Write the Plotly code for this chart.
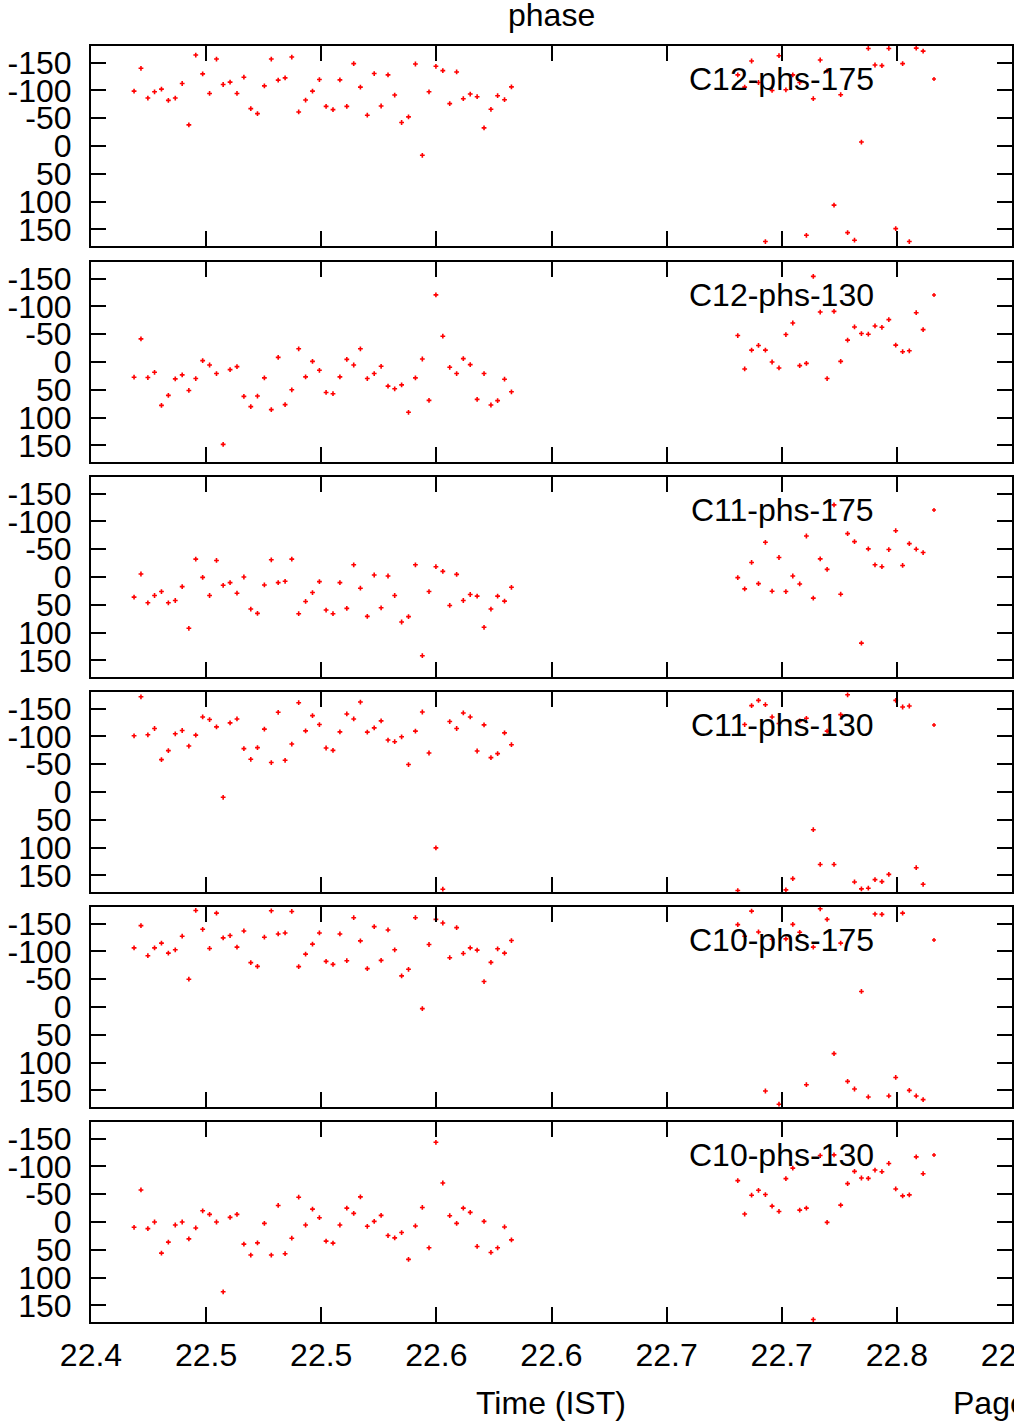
import plotly.graph_objects as go

# ---------------- data ----------------
time_ist = [
    22.4187, 22.4217, 22.4247, 22.4276, 22.4306, 22.4336, 22.4366, 22.4396,
    22.4425, 22.4455, 22.4485, 22.4515, 22.4545, 22.4574, 22.4604, 22.4634,
    22.4664, 22.4694, 22.4723, 22.4753, 22.4783, 22.4813, 22.4843, 22.4872,
    22.4902, 22.4932, 22.4962, 22.4992, 22.5021, 22.5051, 22.5081, 22.5111,
    22.5141, 22.5170, 22.5200, 22.5230, 22.5260, 22.5290, 22.5319, 22.5349,
    22.5379, 22.5409, 22.5439, 22.5468, 22.5498, 22.5528, 22.5558, 22.5588,
    22.5617, 22.5647, 22.5677, 22.5707, 22.5737, 22.5766, 22.5796, 22.5826,
    22.6809, 22.6839, 22.6869, 22.6899, 22.6929, 22.6958, 22.6988, 22.7018,
    22.7048, 22.7078, 22.7107, 22.7137, 22.7167, 22.7197, 22.7227, 22.7256,
    22.7286, 22.7316, 22.7346, 22.7376, 22.7405, 22.7435, 22.7465, 22.7495,
    22.7525, 22.7554, 22.7584, 22.7614,
]

c12_phs_175 = [
    -98.8, -139.9, -86.3, -97.6, -102.4, -82.1, -86.3, -112.5, -38.1, -163.7,
    -129.8, -94.6, -156.5, -110.7, -114.9, -94.6, -123.8, -67.3, -58.3, -108.3,
    -156.5, -118.5, -122.6, -160.1, -61.3, -82.7, -98.8, -119.6, -71.4, -65.5,
    -119.0, -71.4, -148.2, -106.0, -55.4, -130.4, -72.0, -128.0, -91.7, -42.3,
    -52.4, -147.6, 16.7, -97.6, -143.5, -135.7, -76.2, -133.3, -85.1, -93.5,
    -88.7, -32.7, -66.1, -90.5, -83.3, -106.5,
    -128.0, -106.0, -153.0, -114.3, 172.0, -100.0, -162.5, -101.2, -128.0, -114.3,
    160.7, -85.1, -154.8, -135.1, 106.5, -92.3, 156.0, 169.6, -7.1, -175.6,
    -145.8, -144.6, -175.6, 148.8, -148.2, 172.0, -176.2, -170.8,
]

c12_phs_130 = [
    27.4, -41.7, 28.0, 18.5, 78.0, 60.1, 30.4, 23.2, 51.2, 29.8,
    -2.4, 5.4, 20.8, 148.2, 13.7, 8.3, 61.9, 80.4, 61.3, 28.6,
    85.7, -8.3, 76.8, 50.0, -23.8, 26.8, -1.2, 14.9, 54.8, 57.1,
    26.8, -4.8, 5.4, -23.8, 29.8, 20.8, 7.7, 43.5, 48.2, 41.1,
    90.5, 28.6, -5.4, 69.0, -120.8, -46.4, 9.5, 20.8, -6.0, 4.8,
    67.3, 20.8, 77.4, 69.6, 31.0, 53.6,
    -47.6, 12.5, -21.4, -29.8, -21.4, 0.0, 10.7, -49.4, -70.2, 6.5,
    2.4, -154.2, -89.9, 29.8, -91.1, -1.2, -39.3, -63.1, -51.2, -50.0,
    -64.9, -62.5, -76.2, -30.4, -18.5, -20.2, -88.7, -58.3,
]

c11_phs_175 = [
    36.3, -5.4, 46.4, 33.3, 26.2, 46.4, 42.3, 17.3, 92.3, -32.1,
    0.6, 33.3, -29.8, 14.9, 10.1, 29.2, 0.0, 57.7, 65.5, 14.3,
    -31.0, 10.1, 7.7, -32.1, 66.1, 44.0, 28.0, 8.3, 59.5, 66.1,
    10.1, 56.5, -22.0, 20.2, 70.8, -3.6, 55.4, -1.8, 33.3, 81.0,
    71.4, -22.0, 141.7, 26.2, -18.5, -10.1, 51.2, -4.8, 42.3, 31.5,
    34.5, 90.5, 57.7, 34.5, 43.5, 18.5,
    1.2, 21.4, -26.2, 11.9, -62.5, 25.6, -35.1, 26.2, -1.8, 12.5,
    -73.8, 38.1, -32.7, -13.7, -129.8, 31.0, -78.0, -63.7, 119.0, -50.6,
    -22.0, -18.5, -49.4, -83.3, -20.8, -60.1, -50.0, -44.0,
]

c11_phs_130 = [
    -101.2, -171.4, -103.0, -114.3, -58.3, -74.4, -104.8, -110.7, -82.7, -102.4,
    -135.1, -130.4, -117.3, 9.5, -124.4, -131.5, -78.0, -58.9, -79.8, -113.1,
    -53.0, -143.5, -57.1, -86.3, -160.7, -110.1, -137.5, -121.4, -79.2, -75.0,
    -108.3, -140.5, -131.5, -161.9, -107.7, -115.5, -128.0, -93.5, -90.5, -99.4,
    -49.4, -109.5, -144.0, -70.2, 100.6, 175.0, -126.8, -114.3, -142.3, -135.1,
    -73.8, -120.8, -61.9, -69.0, -106.5, -85.1,
    177.4, -121.4, -155.4, -164.9, -157.1, -135.1, -123.2, 176.2, 156.0, -128.0,
    -132.7, 67.9, 130.4, -109.5, 130.4, -139.3, -175.0, 161.9, 174.4, 173.2,
    157.7, 161.3, 148.2, -164.9, -153.0, -154.8, 136.3, 166.1,
]

c10_phs_175 = [
    -106.5, -146.4, -92.3, -106.5, -114.9, -97.0, -103.0, -127.4, -50.0, -173.8,
    -139.9, -105.4, -169.0, -124.4, -128.6, -107.7, -136.9, -79.8, -73.2, -125.6,
    -173.2, -131.5, -133.3, -172.0, -72.6, -95.2, -113.1, -133.3, -82.1, -76.8,
    -131.5, -83.3, -160.7, -119.0, -69.0, -144.6, -83.9, -138.7, -103.0, -56.0,
    -67.9, -160.7, 3.0, -112.5, -157.7, -151.2, -88.7, -142.9, -96.4, -106.5,
    -102.4, -45.8, -80.4, -104.8, -97.0, -119.6,
    -148.2, -127.4, -172.6, -135.1, 151.2, -122.0, 175.0, -122.6, -148.8, -134.5,
    139.9, -107.7, -176.8, -157.7, 83.9, -114.9, 133.9, 147.6, -28.0, 161.9,
    -167.3, -166.7, 160.1, 126.8, -169.0, 150.0, 160.1, 166.7,
]

c10_phs_130 = [
    9.5, -57.7, 11.9, 0.0, 56.0, 36.3, 5.4, 0.0, 30.4, 10.7,
    -20.2, -13.7, 0.0, 125.6, -8.3, -13.7, 39.9, 59.5, 37.5, 2.4,
    59.5, -29.8, 57.1, 29.2, -44.6, 5.4, -23.2, -7.7, 34.5, 38.1,
    5.4, -25.0, -15.5, -45.2, 7.7, -1.2, -11.9, 24.4, 28.6, 19.0,
    67.3, 7.1, -26.2, 46.4, -143.5, -70.2, -11.3, 2.4, -25.0, -17.3,
    44.0, -1.2, 54.8, 46.4, 8.9, 32.1,
    -74.4, -14.3, -48.2, -57.1, -49.4, -28.6, -19.0, -78.0, -97.0, -21.4,
    -25.0, 175.6, -119.6, 0.6, -120.8, -30.4, -69.0, -91.1, -79.2, -78.6,
    -93.5, -90.5, -105.4, -59.5, -47.0, -48.8, -117.3, -86.9,
]

panel_labels = ["C12-phs-175", "C12-phs-130", "C11-phs-175",
                "C11-phs-130", "C10-phs-175", "C10-phs-130"]
panel_series = [c12_phs_175, c12_phs_130, c11_phs_175,
                c11_phs_130, c10_phs_175, c10_phs_130]

y_tickvals = [-150, -100, -50, 0, 50, 100, 150]
y_ticktext = ["-150", "-100", "-50", "0", "50", "100", "150"]
x_tickvals = [22.40, 22.45, 22.50, 22.55, 22.60, 22.65, 22.70, 22.75, 22.80]
x_ticktext = ["22.4", "22.5", "22.5", "22.6", "22.6", "22.7", "22.7", "22.8", "22.8"]

title_text = "phase"
xlabel_text = "Time (IST)"
page_text = "Page"

# ---------------- layout geometry ----------------
W, H = 1014, 1421
ML, MR = 91, 2
panel_tops = [46, 262, 477, 692, 907, 1122]
panel_h = 200
FONT = dict(family="Liberation Sans, Arial, sans-serif", size=32, color="black")


def px_x(px):
    return (px - ML) / (W - ML - MR)


def px_y(py):
    return 1 - py / H


fig = go.Figure()
layout = dict(
    width=W, height=H, autosize=False,
    margin=dict(l=ML, r=MR, t=0, b=0, pad=0, autoexpand=False),
    paper_bgcolor="white", plot_bgcolor="white",
    showlegend=False, font=FONT,
)
annotations = []
shapes = []

for i, (lab, vals) in enumerate(zip(panel_labels, panel_series)):
    n = i + 1
    xa = "x" if n == 1 else f"x{n}"
    ya = "y" if n == 1 else f"y{n}"
    fig.add_trace(go.Scatter(
        x=time_ist, y=vals, mode="markers", xaxis=xa, yaxis=ya,
        marker=dict(symbol="cross", size=4, color="#ff0000", line=dict(width=0)),
        hoverinfo="x+y",
    ))
    top = panel_tops[i]
    bot = top + panel_h
    layout["xaxis" if n == 1 else f"xaxis{n}"] = dict(
        domain=[0, 1], anchor=ya, range=[22.4, 22.8], automargin=False,
        tickmode="array", tickvals=x_tickvals, ticktext=x_ticktext,
        showticklabels=(n == 6), ticks="inside", ticklen=15, tickwidth=2,
        tickcolor="black", showline=True, linewidth=2, linecolor="black",
        mirror="ticks", showgrid=False, zeroline=False,
        ticklabeloverflow="allow", ticklabelstandoff=4,
        tickfont=FONT,
    )
    layout["yaxis" if n == 1 else f"yaxis{n}"] = dict(
        domain=[px_y(bot), px_y(top)], anchor=xa, range=[180, -180],
        automargin=False,
        tickmode="array", tickvals=y_tickvals, ticktext=y_ticktext,
        ticks="inside", ticklen=15, tickwidth=2, tickcolor="black",
        showline=True, linewidth=2, linecolor="black", mirror="ticks",
        showgrid=False, zeroline=False, ticklabelstandoff=11,
        tickfont=FONT,
    )
    # key text + sample point (gnuplot-style key inside each panel)
    ky = top + 33
    annotations.append(dict(
        text=lab, xref="paper", yref="paper", x=px_x(876), y=px_y(ky),
        xanchor="right", yanchor="middle", showarrow=False, font=FONT,
    ))
    cx, cy = 934, ky
    shapes.append(dict(type="line", xref="paper", yref="paper",
                       x0=px_x(cx - 2), x1=px_x(cx + 2), y0=px_y(cy), y1=px_y(cy),
                       line=dict(color="#ff0000", width=1.5)))
    shapes.append(dict(type="line", xref="paper", yref="paper",
                       x0=px_x(cx), x1=px_x(cx), y0=px_y(cy - 2), y1=px_y(cy + 2),
                       line=dict(color="#ff0000", width=1.5)))

annotations.append(dict(text=title_text, xref="paper", yref="paper",
                        x=px_x(551), y=px_y(15), xanchor="center", yanchor="middle",
                        showarrow=False, font=FONT))
annotations.append(dict(text=xlabel_text, xref="paper", yref="paper",
                        x=px_x(551), y=px_y(1403), xanchor="center", yanchor="middle",
                        showarrow=False, font=FONT))
annotations.append(dict(text=page_text, xref="paper", yref="paper",
                        x=px_x(951), y=px_y(1403), xanchor="left", yanchor="middle",
                        showarrow=False, font=FONT))

layout["annotations"] = annotations
layout["shapes"] = shapes
fig.update_layout(**layout)

page_fix = ("document.body.style.margin='0';"
            "document.body.style.padding='0';"
            "document.documentElement.style.overflow='hidden';"
            "document.body.style.overflow='hidden';")
fig.write_html("out.html", config={"responsive": False, "displayModeBar": False},
               post_script=page_fix)
